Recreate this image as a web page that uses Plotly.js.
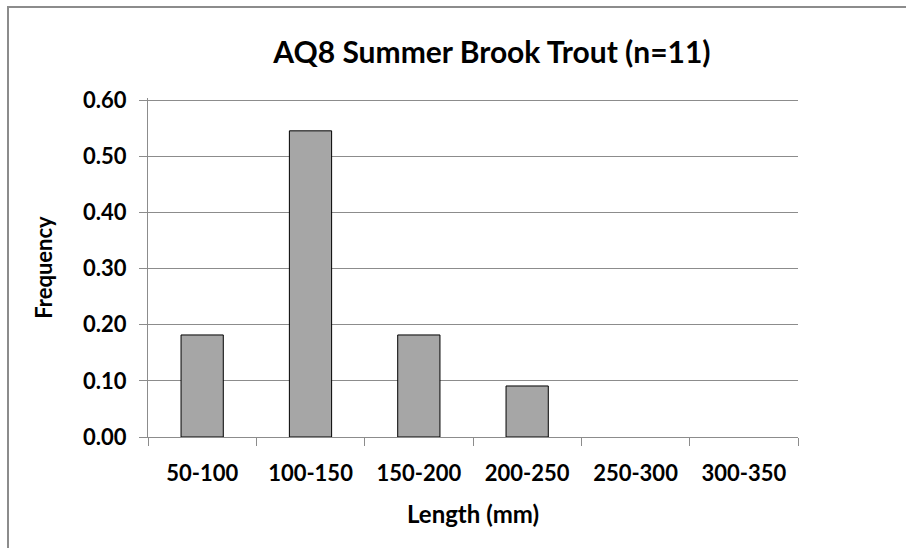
<!DOCTYPE html>
<html>
<head>
<meta charset="utf-8">
<script src="https://cdn.plot.ly/plotly-3.0.1.min.js"></script>
<style>
  body { margin: 0; background: #fff; }
  #wrap { position: relative; width: 906px; height: 548px; overflow: hidden; }
  #frame { position: absolute; left: 7px; top: 6px; width: 920px; height: 560px;
           border-left: 2px solid #8c8c8c; border-top: 2px solid #8c8c8c; pointer-events: none; }
</style>
</head>
<body>
<div id="wrap">
  <div id="chart" style="width:906px;height:548px;"></div>
  <div id="frame"></div>
</div>
<script>
const lengthBins = ['50-100', '100-150', '150-200', '200-250', '250-300', '300-350'];
const frequency = [0.1818, 0.5455, 0.1818, 0.0909, 0, 0];
const yTicks = [0, 0.1, 0.2, 0.3, 0.4, 0.5, 0.6];

const font = 'Lato, "Open Sans", sans-serif';

const trace = {
    x: lengthBins,
    y: frequency,
    type: 'bar',
    marker: {
        color: '#a6a6a6',
        // no outline on the empty bins
        line: { color: '#000000', width: frequency.map(v => v > 0 ? 1 : 0) }
    },
    hoverinfo: 'none'
};

const layout = {
    width: 906,
    height: 548,
    margin: { l: 148, r: 108, t: 98, b: 111 },
    paper_bgcolor: '#ffffff',
    plot_bgcolor: '#ffffff',
    showlegend: false,
    bargap: 0.61,
    title: {
        text: '<b>AQ8 Summer Brook Trout (n=11)</b>',
        font: { family: font, size: 30, color: '#000' },
        x: 0.543, xanchor: 'center',
        y: 0.905, yanchor: 'middle'
    },
    xaxis: {
        type: 'category',
        ticks: 'outside',
        tickson: 'boundaries',
        ticklen: 8,
        tickcolor: '#8c8c8c',
        showline: true,
        linecolor: '#8c8c8c',
        linewidth: 1,
        showgrid: false,
        ticklabelstandoff: 17,
        tickfont: { family: font, size: 22, color: '#000', weight: 'bold' },
        title: {
            text: '<b>Length (mm)</b>',
            font: { family: font, size: 24, color: '#000' },
            standoff: 20
        }
    },
    yaxis: {
        range: [0, 0.604],
        tickvals: yTicks,
        ticktext: yTicks.map(v => v.toFixed(2)),
        ticks: 'outside',
        ticklen: 8,
        tickcolor: '#8c8c8c',
        showline: true,
        linecolor: '#8c8c8c',
        linewidth: 1,
        showgrid: true,
        gridcolor: '#8c8c8c',
        gridwidth: 1,
        zeroline: false,
        ticklabelstandoff: 8,
        tickfont: { family: font, size: 22, color: '#000', weight: 'bold' },
        title: {
            text: '<b>Frequency</b>',
            font: { family: font, size: 22, color: '#000' },
            standoff: 24
        }
    }
};

Plotly.newPlot('chart', [trace], layout, { displayModeBar: false, staticPlot: true });
</script>
</body>
</html>
